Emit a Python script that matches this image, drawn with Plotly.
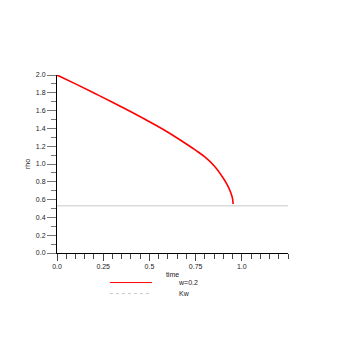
import plotly.graph_objects as go

# rho(time) for w=0.2
time = [0, 0.1, 0.2, 0.3, 0.4, 0.5, 0.6, 0.7, 0.75, 0.8, 0.85, 0.9, 0.92, 0.94, 0.95, 0.953]
rho = [2.0, 1.90, 1.798, 1.694, 1.587, 1.475, 1.357, 1.225, 1.155, 1.08, 0.98, 0.84, 0.77, 0.68, 0.61, 0.55]

kw_time = [0, 1.25]
kw_rho = [0.53, 0.53]

x_ticks = [0, 0.25, 0.5, 0.75, 1.0]
x_labels = ["0.0", "0.25", "0.5", "0.75", "1.0"]
y_ticks = [0, 0.2, 0.4, 0.6, 0.8, 1.0, 1.2, 1.4, 1.6, 1.8, 2.0]
y_labels = ["0.0", "0.2", "0.4", "0.6", "0.8", "1.0", "1.2", "1.4", "1.6", "1.8", "2.0"]

font = dict(family="Liberation Sans, Arial, sans-serif", size=7, color="#222")

fig = go.Figure()
fig.add_trace(go.Scatter(x=kw_time, y=kw_rho, mode="lines", name="Kw",
                         line=dict(color="#c8c8c8", width=1)))
fig.add_trace(go.Scatter(x=time, y=rho, mode="lines", name="w=0.2",
                         line=dict(color="red", width=1.6, shape="spline", smoothing=1)))

# hand-made legend below the axis
fig.add_shape(type="line", xref="paper", yref="paper", x0=0.229, x1=0.411, y0=-0.166, y1=-0.166,
              line=dict(color="red", width=1))
fig.add_shape(type="line", xref="paper", yref="paper", x0=0.229, x1=0.411, y0=-0.228, y1=-0.228,
              line=dict(color="#c8c8c8", width=1, dash="dot"))
fig.add_annotation(text="w=0.2", xref="paper", yref="paper", x=0.515, y=-0.166,
                   xanchor="left", yanchor="middle", showarrow=False, font=font)
fig.add_annotation(text="Kw", xref="paper", yref="paper", x=0.518, y=-0.228,
                   xanchor="left", yanchor="middle", showarrow=False, font=font)

fig.update_xaxes(range=[0, 1.25], tickvals=x_ticks, ticktext=x_labels,
                 showline=True, linecolor="black", linewidth=1, showgrid=False, zeroline=False,
                 ticks="outside", ticklen=7, tickcolor="#444",
                 minor=dict(dtick=0.05, ticks="outside", ticklen=5, tickcolor="#444", showgrid=False),
                 title=dict(text="time", font=font, standoff=2))
fig.update_yaxes(range=[0, 2.0], tickvals=y_ticks, ticktext=y_labels,
                 showline=True, linecolor="black", linewidth=1, showgrid=False, zeroline=False,
                 ticks="outside", ticklen=9, tickcolor="#777",
                 minor=dict(dtick=0.1, ticks="outside", ticklen=5, tickcolor="#777", showgrid=False),
                 title=dict(text="rho", font=font, standoff=4))

# page body adds an 8px offset, so margins are shifted to keep the plot where the reference has it
fig.update_layout(width=354, height=354, margin=dict(l=49, r=74, t=67, b=109),
                  paper_bgcolor="white", plot_bgcolor="white", showlegend=False, font=font)

fig.write_html("out.html")
